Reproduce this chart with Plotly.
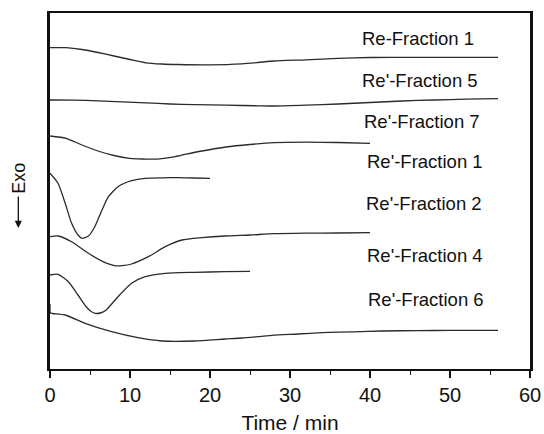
import plotly.graph_objects as go

# ---- data (time in min, signal in arbitrary units, offset curves) ----
names = ["Re-Fraction 1", "Re'-Fraction 5", "Re'-Fraction 7", "Re'-Fraction 1",
         "Re'-Fraction 2", "Re'-Fraction 4", "Re'-Fraction 6"]

t1 = [0, 2, 4, 6, 8, 10, 12, 14, 16, 20, 24, 26, 28, 32, 36, 40, 45, 50, 56]
y1 = [321.3, 321.3, 319.5, 316.5, 313.0, 309.5, 306.2, 305.0, 304.5, 304.2, 305.2,
      306.5, 308.0, 309.2, 310.7, 311.5, 311.7, 311.7, 311.7]

t2 = [0, 3, 6, 9, 12, 15, 18, 22, 26, 28, 32, 36, 40, 44, 48, 52, 56]
y2 = [269.0, 268.8, 268.2, 267.2, 266.2, 265.0, 264.4, 263.8, 263.2, 263.0, 263.8,
      265.0, 266.5, 268.0, 269.0, 269.8, 270.3]

t3 = [0, 2, 4, 6, 8, 10, 11.5, 12.8, 14, 15.5, 17, 19, 22, 25, 28, 32, 36, 40]
y3 = [233.0, 230.7, 224.0, 218.0, 213.5, 210.7, 210.0, 209.8, 210.4, 212.2, 214.8,
      218.0, 222.0, 224.5, 226.3, 226.8, 226.5, 225.7]

t4 = [0, 1, 1.9, 2.7, 3.5, 4.0, 4.8, 5.6, 6.5, 7.3, 8.5, 10.2, 11.9, 14, 16, 18, 20]
y4 = [195.7, 185.7, 165.7, 145.7, 134.0, 130.7, 133.0, 142.3, 159.0, 172.3, 182.3,
      188.3, 190.7, 191.2, 191.3, 191.0, 190.7]

t5 = [0, 1, 2.7, 4.8, 6.5, 7.4, 8.2, 9.0, 10.2, 12.3, 14.4, 16.5, 19, 21.9, 25, 28, 32, 36, 40]
y5 = [132.3, 133.0, 127.3, 115.7, 107.8, 104.8, 103.2, 103.3, 105.0, 112.3, 122.3, 129.0,
      131.3, 133.0, 134.0, 135.3, 135.8, 136.0, 136.3]

t6 = [0, 1, 2.3, 3.5, 4.5, 5.1, 5.7, 6.3, 7.0, 8.5, 10.2, 11.9, 14.4, 18, 21.9, 25]
y6 = [94.0, 94.7, 87.3, 74.0, 62.5, 57.8, 55.6, 56.0, 58.8, 72.3, 85.7, 92.3, 95.7,
      96.7, 97.3, 97.7]

t7 = [0, 0.05, 0.3, 1.9, 4.4, 7.7, 11, 14, 18.1, 21.9, 24, 27.75, 31, 34, 38, 41.5, 46, 50, 56]
y7 = [65.0, 56.0, 55.5, 54.0, 45.7, 37.3, 31.3, 28.0, 28.0, 30.0, 31.0, 33.7, 35.0, 36.3,
      37.2, 38.0, 38.4, 38.6, 38.7]

times = [t1, t2, t3, t4, t5, t6, t7]
signals = [y1, y2, y3, y4, y5, y6, y7]

# label anchor positions (layout)
label_x = [38.8, 38.8, 39.0, 39.4, 39.2, 39.4, 39.55]
label_y = [330.7, 289.0, 247.3, 207.3, 165.7, 113.7, 69.5]

x_ticks = [0, 10, 20, 30, 40, 50, 60]

fig = go.Figure()
for t, y, n in zip(times, signals, names):
    fig.add_trace(go.Scatter(x=t, y=y, mode="lines", name=n,
                             line=dict(color="#2b2b2b", width=1.3, shape="spline", smoothing=0.6),
                             showlegend=False, hoverinfo="skip"))

annotations = []
for n, lx, ly in zip(names, label_x, label_y):
    annotations.append(dict(x=lx, y=ly, xref="x", yref="y", text=n, showarrow=False,
                            xanchor="left", yanchor="middle",
                            font=dict(family="Liberation Sans, Arial", size=18.5, color="#111")))

# y-axis label "Exo" with downward arrow
annotations.append(dict(x=-0.066, y=0.535, xref="paper", yref="paper", text="Exo",
                        showarrow=False, textangle=-90, xanchor="center", yanchor="middle",
                        font=dict(family="Liberation Sans, Arial", size=18, color="#111")))
annotations.append(dict(x=-0.066, y=0.396, xref="paper", yref="paper", text="",
                        showarrow=True, ax=0, ay=-33, arrowhead=2, arrowsize=1.1,
                        arrowwidth=1.3, arrowcolor="#111"))

fig.update_layout(
    width=544, height=434,
    margin=dict(l=50, r=14, t=13, b=65, autoexpand=False),
    paper_bgcolor="white", plot_bgcolor="white",
    annotations=annotations,
    xaxis=dict(range=[0, 60], tickvals=x_ticks, ticktext=[str(v) for v in x_ticks],
               ticks="outside", ticklen=7, tickwidth=1.5, tickcolor="#111",
               minor=dict(dtick=5, ticks="outside", ticklen=4, tickwidth=1.2, tickcolor="#111"),
               showline=True, linewidth=2, linecolor="#111", mirror=True,
               showgrid=False, zeroline=False, automargin=False,
               tickfont=dict(family="Liberation Sans, Arial", size=20, color="#111"),
               title=dict(text="Time / min", standoff=11,
                          font=dict(family="Liberation Sans, Arial", size=21, color="#111"))),
    yaxis=dict(range=[0, 356], showticklabels=False, ticks="",
               showline=True, linewidth=2.5, linecolor="#111", mirror=True,
               showgrid=False, zeroline=False, automargin=False),
)

fig.write_html("out.html", config={"displayModeBar": False},
               post_script="document.body.style.margin='0';document.body.style.overflow='hidden';")
